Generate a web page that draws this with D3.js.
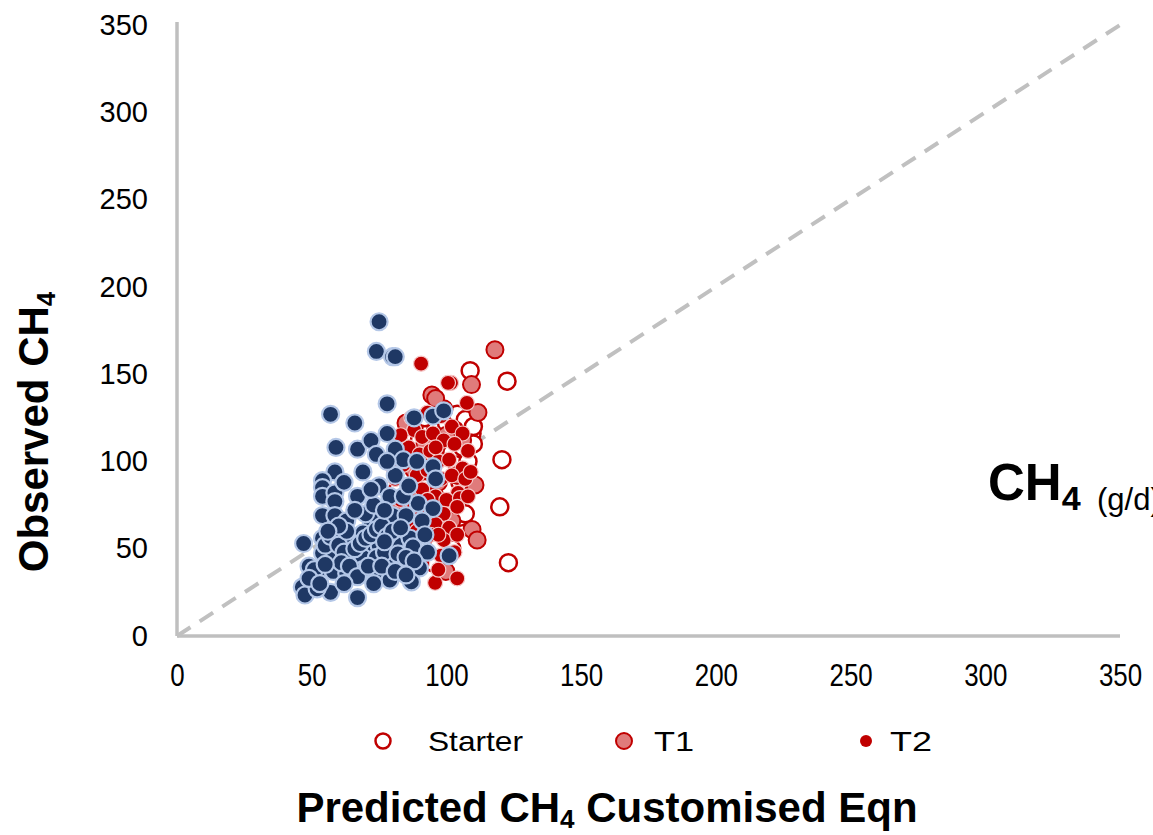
<!DOCTYPE html>
<html>
<head>
<meta charset="utf-8">
<script src="https://cdn.jsdelivr.net/npm/d3@7"></script>
<style>
  html, body { margin: 0; padding: 0; background: #fff; }
  svg { display: block; font-family: "Liberation Sans", Arial, sans-serif; }
</style>
</head>
<body>
<svg id="chart" width="1153" height="835"></svg>
<script>
// ---------- DATA ----------
const xTicks = [0, 50, 100, 150, 200, 250, 300, 350];
const yTicks = [0, 50, 100, 150, 200, 250, 300, 350];
const legendLabels = ["Starter", "T1", "T2"];

// Blue series (not in legend): [predicted, observed]
const blueSeries = [
  [75,180],[74,163],[80,160],[81,160],[57,127],[66,122],[78,133],[59,108],[67,107],[72,112],
  [74,104],[88,125],[95,126],[99,129],[78,116],[69,94],[81,107],[84,101],[89,100],[95,97],
  [96,90],[58.6,94],[54,89],[54,85],[54,80],[58.6,82],[58.6,77],[67,80],[75,86],[79,80],
  [54,69],[58.6,69],[63,66],[72,63],[75,66],[80,69],[85,69],[89.5,76],[95,73],[91,66],
  [47,53],[54,56],[58,59],[65,55],[69,59],[71,50],[75,52],[81,53],[86.5,56],[87.6,51],
  [93,48],[101,46],[54,47.5],[58.6,46.5],[65,45],[69,45],[74,45],[79,42],[84,41],[90,39],
  [49,40],[52,35],[58,37],[63,36],[69,38],[74,36],[87,31],[79,32],[46.5,28],[47.5,23.5],
  [57,25],[67,22],[73,30],[55,52],[57,57],[60,52],[62,48],[66,50],[68,53],[70,56],
  [72,58],[74,61],[76,63],[78,57],[80,60],[83,62],[77,48],[82,47],[85,45],[88,43],
  [61,42],[64,40],[67,34],[71,40],[76,40],[81,37],[51,38],[55,41],[52,27],[62,30],
  [85,35],[70,70],[73,75],[77,72],[66,72],[63,60],[60,63],[84,80],[86,86],[81,92],
  [72,84],[78,100],[62,88],[56,60],[49,33],[53,30],[77,54],[92,58]
];

const starterSeries = [
  [108.8,152],[122.5,146],[120.6,101],[119.8,74],[123,42],[109.5,116],[105,68],
  [88,120],[92,125],[96,118],[100,122],[104,127],[107,124],[110,120],[98,110],
  [102,105],[106,108],[94,102],[90,98],[86,92],[95,92],[100,95],[104,98],[108,100],
  [92,85],[97,82],[101,85],[105,88],[88,78],[93,74],[98,76],[103,72],[107,70],
  [90,65],[95,62],[100,60],[85,60],[92,55],[97,52],[88,48],[102,50],[95,42],
  [90,112],[84,105],[99,130],[103,118],[110,110],[96,68],[86,70],[82,84]
];

const t1Series = [
  [118,164],[109.3,144],[111.7,128],[110.6,86.5],[109.5,61],[111.4,55],[99.8,37],
  [94.6,138],[96,136],[85,122],[92,110],[100,115],[88,95],[104,92],[97,88],
  [90,80],[102,66],[86,54],[106,112],[94,70],[80,72]
];

const t2Series = [
  [90.6,156],[101.7,145],[100.6,145],[107.6,133.5],[104.3,82],[95.8,30.5],[104,33],
  [93,128],[98,126],[102,120],[106,116],[88,118],[91,114],[95,116],[99,112],
  [103,110],[108,106],[86,108],[90,104],[94,106],[97,100],[101,101],[106,96],
  [84,98],[89,92],[93,95],[98,90],[102,92],[107,90],[86,86],[91,84],[96,80],
  [100,78],[105,79],[83,78],[88,74],[93,78],[99,70],[104,74],[86,66],[91,70],
  [96,64],[101,62],[84,58],[89,60],[94,58],[99,55],[104,58],[88,52],[93,48],
  [98,46],[91,42],[97,38],[80,97],[81,90],[83,115],[87,125],[96,108],[109,94],
  [108,80],[97,58],[103,48]
];

const identityLine = [[0,0],[350,350]];

// ---------- CHART ----------
const svg = d3.select("#chart");
const x = d3.scaleLinear().domain([0, 350]).range([177, 1120]);
const y = d3.scaleLinear().domain([0, 350]).range([636, 25]);
const axisColor = "#bfbfbf";

// axes
const yAxis = svg.append("g")
  .attr("transform", `translate(${x(0)},0)`)
  .call(d3.axisLeft(y).tickValues(yTicks).tickSize(0).tickSizeOuter(0).tickPadding(29));
yAxis.select(".domain").attr("stroke", axisColor).attr("stroke-width", 3.5)
  .attr("d", `M0,${y(0)}V${22}`);
yAxis.selectAll("text").attr("font-size", 29).attr("fill", "#000")
  .attr("font-family", "Liberation Sans, Arial, sans-serif");

const xAxis = svg.append("g")
  .attr("transform", `translate(0,${y(0)})`)
  .call(d3.axisBottom(x).tickValues(xTicks).tickSize(0).tickSizeOuter(0).tickPadding(27));
xAxis.select(".domain").attr("stroke", axisColor).attr("stroke-width", 3.5)
  .attr("d", `M${x(0)},0H${x(350)}`);
xAxis.selectAll("text").attr("font-size", 32).attr("fill", "#000")
  .attr("font-family", "Liberation Sans, Arial, sans-serif")
  .attr("textLength", d => String(d).length * 14.4)
  .attr("lengthAdjust", "spacingAndGlyphs");

// 1:1 dashed line
svg.append("path")
  .datum(identityLine)
  .attr("d", d3.line().x(d => x(d[0])).y(d => y(d[1])))
  .attr("stroke", "#c0c0c0").attr("stroke-width", 4)
  .attr("stroke-dasharray", "16 11").attr("fill", "none");

const R = 8.5;
const red = "#c00000";

function drawSeries(data, r, fill, stroke, sw) {
  svg.append("g").selectAll("circle").data(data).join("circle")
    .attr("cx", d => x(d[0])).attr("cy", d => y(d[1])).attr("r", r)
    .attr("fill", fill).attr("stroke", stroke).attr("stroke-width", sw);
}
drawSeries(starterSeries, R, "#ffffff", red, 2.5);
drawSeries(t1Series, R, "#e07b7b", red, 2);
drawSeries(t2Series, 7.5, red, "#f6c8c8", 1.2);
drawSeries(blueSeries, R, "#1f3864", "#b4c7e7", 2.2);

// axis titles
const yt = svg.append("text")
  .attr("transform", "translate(48,432) rotate(-90)")
  .attr("text-anchor", "middle").attr("font-size", 42).attr("font-weight", "bold");
yt.append("tspan").text("Observed CH");
yt.append("tspan").text("4").attr("font-size", 26).attr("dy", 7);

const xt = svg.append("text")
  .attr("x", 607).attr("y", 822)
  .attr("text-anchor", "middle").attr("font-size", 42).attr("font-weight", "bold");
xt.append("tspan").text("Predicted CH");
xt.append("tspan").text("4").attr("font-size", 26).attr("dy", 6);
xt.append("tspan").text(" Customised Eqn").attr("dy", -6);

// right annotation (clipped by page edge)
const ann = svg.append("text").attr("x", 988).attr("y", 500).attr("font-weight", "bold").attr("font-size", 51);
ann.append("tspan").text("CH");
ann.append("tspan").text("4").attr("font-size", 34).attr("dy", 10);
ann.append("tspan").text("(g/d)").attr("x", 1097).attr("font-size", 31).attr("font-weight", "normal");

// legend
const legendX = [383, 624, 866];
const legendTextX = [428, 654, 890];
const legendLen = [95, 40, 42];
const lg = svg.append("g");
lg.append("circle").attr("cx", legendX[0]).attr("cy", 741).attr("r", 7.5)
  .attr("fill", "#fff").attr("stroke", red).attr("stroke-width", 2.5);
lg.append("circle").attr("cx", legendX[1]).attr("cy", 741).attr("r", 8)
  .attr("fill", "#e07b7b").attr("stroke", red).attr("stroke-width", 2);
lg.append("circle").attr("cx", legendX[2]).attr("cy", 741).attr("r", 6)
  .attr("fill", red);
legendLabels.forEach((t, i) => {
  lg.append("text").attr("x", legendTextX[i]).attr("y", 751)
    .attr("font-size", 28).attr("textLength", legendLen[i])
    .attr("lengthAdjust", "spacingAndGlyphs").text(t);
});
</script>
</body>
</html>
